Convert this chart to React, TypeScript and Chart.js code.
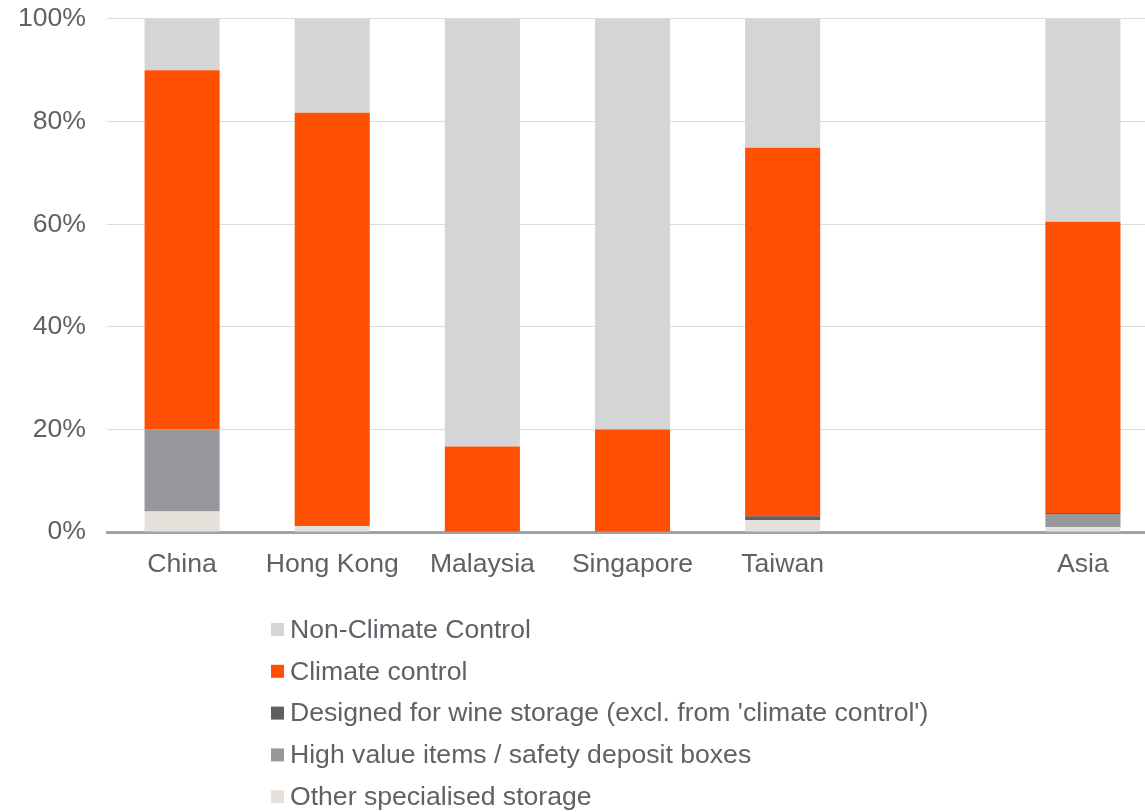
import React, { useEffect, useRef } from "react";
import { Chart, registerables } from "chart.js";

Chart.register(...registerables);

// Storage mix by market, share of total (%)
const categories = ["China", "Hong Kong", "Malaysia", "Singapore", "Taiwan", "", "Asia"];
const otherSpecialised = [4, 1.2, 0, 0, 2.3, null, 1];
const highValue = [16, 0, 0, 0, 0, null, 2.5];
const wineStorage = [0, 0, 0, 0, 0.8, null, 0.2];
const climateControl = [70, 80.5, 16.7, 20, 71.8, null, 56.8];
const nonClimate = [10, 18.3, 83.3, 80, 25.1, null, 39.5];
const yTicks = [0, 20, 40, 60, 80, 100];

const FONT = "'Liberation Sans', Arial, Helvetica, sans-serif";
const TEXT = "#606167";
const FONT_SIZE = 26.6;

// The canvas is a little larger than the visible frame and shifted up/left
const SHIFT_X = 3;
const SHIFT_Y = 18;
const CANVAS_W = 1162;
const CANVAS_H = 830;

// Legend listed top to bottom (reverse of stacking order)
const legendOrder = [4, 3, 2, 1, 0];

const verticalLegend = {
  id: "verticalLegend",
  afterDraw(chart: any) {
    const { ctx } = chart;
    const x = 271 + SHIFT_X;
    const y0 = 629.5 + SHIFT_Y;
    const step = 41.8;
    ctx.save();
    ctx.font = `${FONT_SIZE}px ${FONT}`;
    ctx.textBaseline = "middle";
    ctx.textAlign = "left";
    legendOrder.forEach((di, i) => {
      const ds = chart.data.datasets[di];
      const y = y0 + i * step;
      ctx.fillStyle = ds.backgroundColor;
      ctx.fillRect(x, y - 6.5, 13, 13);
      ctx.fillStyle = TEXT;
      ctx.fillText(ds.label, x + 19, y + 1);
    });
    ctx.restore();
  },
};

export default function App() {
  const canvasRef = useRef<HTMLCanvasElement | null>(null);

  useEffect(() => {
    if (!canvasRef.current) return;
    Chart.defaults.font.family = FONT;
    const chart = new Chart(canvasRef.current, {
      type: "bar",
      data: {
        labels: categories,
        datasets: [
          { label: "Other specialised storage", data: otherSpecialised, backgroundColor: "#E5E1DA" },
          { label: "High value items / safety deposit boxes", data: highValue, backgroundColor: "#97989C" },
          { label: "Designed for wine storage (excl. from 'climate control')", data: wineStorage, backgroundColor: "#5E5F63" },
          { label: "Climate control", data: climateControl, backgroundColor: "#FE5000" },
          { label: "Non-Climate Control", data: nonClimate, backgroundColor: "#D4D5D7" },
        ] as any,
      },
      options: {
        animation: false,
        responsive: false,
        layout: { padding: { top: 0, left: 0, right: 1, bottom: 214 } },
        datasets: { bar: { barPercentage: 0.5, categoryPercentage: 1, borderWidth: 0 } },
        plugins: { legend: { display: false }, tooltip: { enabled: false } },
        scales: {
          x: {
            stacked: true,
            grid: { display: false, drawTicks: false },
            border: { display: true, color: "#A2A2A6", width: 3 },
            ticks: { color: TEXT, font: { size: FONT_SIZE }, padding: 17, maxRotation: 0 },
          },
          y: {
            stacked: true,
            min: 0,
            max: 100,
            afterBuildTicks: (axis: any) => {
              axis.ticks = yTicks.map((v) => ({ value: v }));
            },
            grid: { color: "#DCDCDC", lineWidth: 1, drawTicks: false },
            border: { display: false },
            ticks: {
              color: TEXT,
              font: { size: FONT_SIZE },
              padding: 21,
              callback: (v: any) => `${v}%`,
            },
          },
        },
      },
      plugins: [verticalLegend],
    });
    return () => chart.destroy();
  }, []);

  return (
    <div style={{ position: "fixed", left: 0, top: 0, width: 1145, height: 812, overflow: "hidden", background: "#fff" }}>
      <canvas
        ref={canvasRef}
        width={CANVAS_W}
        height={CANVAS_H}
        style={{ position: "absolute", left: -SHIFT_X, top: -SHIFT_Y, width: CANVAS_W, height: CANVAS_H, display: "block" }}
      />
    </div>
  );
}
